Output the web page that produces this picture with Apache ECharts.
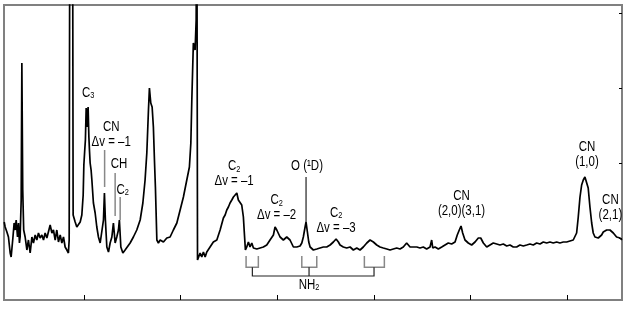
<!DOCTYPE html>
<html><head><meta charset="utf-8">
<script src="https://cdn.jsdelivr.net/npm/echarts@6/dist/echarts.min.js"></script>
<style>html,body{margin:0;padding:0;background:#fff}#c{width:629px;height:309px}</style>
</head><body><div id="c"></div>
<script>
// Wavelength (nm) and relative flux (arbitrary counts)
const wavelength = [317.2,318.2,320.0,321.6,323.4,324.4,326.2,327.5,328.6,329.6,331.0,332.0,333.0,333.7,334.8,335.5,336.4,337.4,338.9,340.7,342.3,344.1,345.9,347.5,349.3,351.0,352.7,354.4,356.2,357.9,359.6,361.4,363.0,364.8,366.6,368.2,370.0,371.7,373.4,375.2,376.9,378.6,380.3,382.1,383.7,384.5,385.2,388.0,388.6,389.1,390.7,392.4,394.1,395.9,397.6,399.0,399.7,400.5,401.3,402.1,402.8,403.4,404.1,404.9,405.5,406.2,407.2,408.0,409.6,411.4,413.1,414.8,416.6,418.3,420.0,421.0,422.0,423.5,425.2,426.9,428.7,430.3,432.1,433.8,435.5,436.5,438.0,440.1,442.4,444.2,447.6,451.0,454.5,458.0,460.8,463.1,464.9,466.6,467.6,469.0,470.4,471.7,472.8,473.8,475.3,476.9,478.7,482.1,485.6,489.0,492.4,496.0,499.4,502.8,506.3,509.0,510.5,511.5,513.1,514.9,516.0,516.7,516.9,517.4,518.0,520.1,521.8,523.5,525.3,527.0,528.4,530.4,533.8,537.4,540.8,544.2,546.0,547.7,549.4,551.1,552.9,554.6,556.3,558.1,559.7,561.5,563.2,564.9,565.9,567.0,568.4,570.1,571.8,573.6,575.3,578.8,582.2,585.6,589.1,592.5,596.0,597.7,599.5,602.9,606.3,609.8,611.5,613.2,616.7,620.2,623.6,625.4,627.0,628.8,629.8,631.2,632.6,634.0,637.4,640.9,644.3,647.7,651.2,654.7,658.1,660.9,663.3,665.0,668.4,671.9,675.4,678.8,682.3,685.7,689.1,692.7,696.1,699.5,703.0,706.4,709.8,713.4,716.8,720.2,723.7,727.1,730.5,734.0,737.5,740.9,744.5,747.8,751.2,754.7,758.2,759.9,761.0,763.4,766.8,770.3,773.7,777.1,780.6,784.1,786.4,788.5,790.3,792.0,794.4,797.8,801.3,804.8,808.2,810.7,813.4,816.9,820.3,823.7,827.2,830.6,834.1,837.6,841.0,844.4,847.9,851.3,854.8,858.3,861.7,865.1,868.6,872.1,875.5,877.2,879.0,882.4,885.8,889.3,892.7,896.2,899.7,903.1,906.5,908.3,910.0,911.7,913.5,915.2,916.9,918.6,920.4,922.0,923.8,925.6,927.2,929.0,930.7,932.4,934.2,935.9,937.6,941.1,944.5,946.3,948.0,951.4,954.9,956.9];
const flux = [78,73,68,63,47,43,62,77,70,80,63,77,57,63,100,237,110,70,63,50,60,47,63,57,65,60,67,62,65,60,67,62,60,75,67,70,60,70,58,65,57,63,53,50,47,60,420,420,85,83,78,73,75,78,85,105,135,148,160,192,173,182,193,163,150,137,130,120,97,87,73,63,57,55,80,107,80,53,48,57,63,77,57,63,70,80,53,47,50,48,57,63,70,80,97,120,147,190,212,197,193,173,140,113,60,57,60,58,62,63,70,77,90,103,120,133,157,200,257,250,280,420,420,40,40,47,43,48,43,48,50,53,58,60,70,82,85,90,93,97,100,103,105,107,100,102,95,83,67,50,53,58,53,57,52,51,52,53,55,60,65,73,70,63,60,63,65,60,53,53,54,57,63,73,78,68,58,53,50,51,52,53,53,55,58,61,58,55,53,52,53,50,52,50,53,57,60,58,55,53,52,51,50,51,52,51,53,57,53,53,53,52,53,51,53,60,52,53,51,53,55,57,56,58,65,70,74,67,60,57,55,58,62,62,57,53,55,57,56,55,56,54,55,53,53,55,54,55,56,55,57,56,58,60,57,58,57,58,57,58,58,59,60,62,67,83,103,115,120,123,122,112,93,77,67,63,61,62,63,65,68,70,70,68,67,63,62,60];
const xTicks = [400,500,600,700,800,900];
const yTicks = [62,137,212,287];

// Annotation labels: [wavelength, flux, text]
const labelTexts = [
  [404.1, 207, 'C{s|3}'],
  [428.0, 165.5, 'CN\nΔv = –1'],
  [436.2, 136, 'CH'],
  [439.9, 110, 'C{s|2}'],
  [555.3, 126, 'C{s|2}\nΔv = –1'],
  [599.3, 92, 'C{s|2}\nΔv = –2'],
  [630.8, 134, 'O (¹D)'],
  [660.9, 79.5, 'C{s|2}\nΔv = –3'],
  [790.8, 96, 'CN\n(2,0)(3,1)'],
  [920.7, 145, 'CN\n(1,0)'],
  [945.0, 92.5, 'CN\n(2,1)'],
  [632.9, 15, 'NH{s|2}']
];
// Pointer lines (gray) and O line (black)
const grayPointers = [
  [[421.2,150],[421.2,113]],
  [[432.1,127],[432.1,84]],
  [[437.3,103],[437.3,80]]
];
const blackPointers = [
  [[629.8,123],[629.8,78]]
];
// NH2 brackets
const brackets = [
  [[567.7,44],[567.7,32.7],[580.4,32.7],[580.4,44]],
  [[625.4,44],[625.4,32.7],[640.9,32.7],[640.9,44]],
  [[690.2,44],[690.2,32.7],[710.9,32.7],[710.9,44]]
];
const connectors = [
  [[574.2,32.7],[574.2,24],[700.2,24],[700.2,32.7]],
  [[632.9,32.7],[632.9,24]]
];

const FONT = '"Liberation Sans", Arial, sans-serif';
const chart = echarts.init(document.getElementById('c'), null, {renderer:'canvas'});
const spectrum = wavelength.map((w,i)=>[w, flux[i]]);
chart.setOption({
  animation:false,
  grid:{left:4, top:5, right:7, bottom:9, show:true, borderColor:'#808080', borderWidth:2, backgroundColor:'transparent'},
  xAxis:{type:'value', min:317, max:957, axisLine:{show:false}, splitLine:{show:false}, axisLabel:{show:false},
    axisTick:{show:true, inside:true, length:5, customValues:xTicks, lineStyle:{color:'#000', width:1}}},
  yAxis:{type:'value', position:'right', min:0, max:295, axisLine:{show:false}, splitLine:{show:false}, axisLabel:{show:false},
    axisTick:{show:true, inside:true, length:3, customValues:yTicks, lineStyle:{color:'#000', width:1}}},
  series:[
    {type:'line', data:spectrum, showSymbol:false, clip:true, lineStyle:{color:'#000', width:1.7}, z:3},
    {type:'lines', coordinateSystem:'cartesian2d', polyline:true, z:4,
      lineStyle:{color:'#888', width:1.5, opacity:1},
      data:grayPointers.concat(brackets).map(c=>({coords:c}))},
    {type:'lines', coordinateSystem:'cartesian2d', polyline:true, z:4,
      lineStyle:{color:'#222', width:1.2, opacity:1},
      data:blackPointers.concat(connectors).map(c=>({coords:c}))}
  ]
});
// Annotation texts placed through the chart's own coordinate conversion, narrowed like the original font
const graphics = labelTexts.map(t=>{
  const p = chart.convertToPixel({gridIndex:0}, [t[0], t[1]]);
  return {type:'text', x:p[0], y:p[1], scaleX:0.82, z:10, silent:true,
    style:{text:t[2], fill:'#000', fontFamily:FONT, fontSize:14, lineHeight:15, align:'center', verticalAlign:'middle',
      rich:{s:{fill:'#000', fontFamily:FONT, fontSize:9, verticalAlign:'bottom', lineHeight:15, padding:[4,0,0,0]}}}};
});
chart.setOption({graphic:graphics});
</script></body></html>
